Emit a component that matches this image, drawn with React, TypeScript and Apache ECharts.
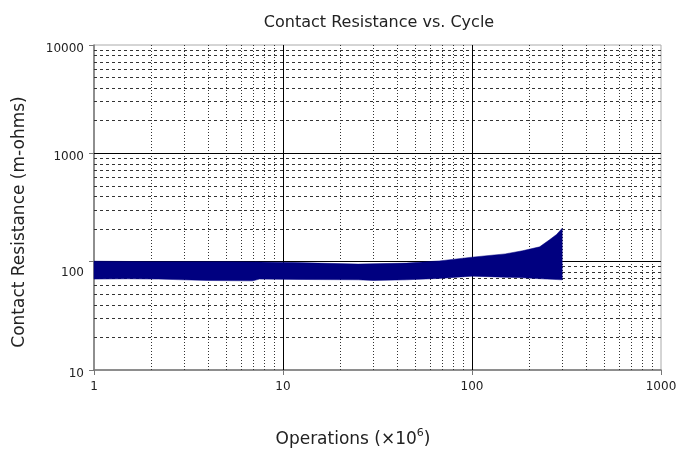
import React, { useEffect, useRef } from "react";
import * as echarts from "echarts";

const xTickValues = [1, 10, 100, 1000];
const yTickValues = [10, 100, 1000, 10000];

const upperX = [1, 2, 5, 7.5, 12, 25, 45, 67, 100, 150, 185, 228, 257, 280, 300];
const upperY = [101, 100, 100, 99.5, 98, 95, 97, 101.5, 110, 118, 126, 137, 159, 178, 203];
const lowerX = [1, 1.5, 2.2, 4, 6.9, 7.5, 12, 25, 30, 45, 67, 100, 185, 250, 300];
const lowerY = [69, 69.5, 69, 67, 66.5, 69, 68.5, 68, 67, 68, 70, 73.5, 71, 69, 68];

const minorX = [2, 3, 4, 5, 6, 7, 8, 9, 20, 30, 40, 50, 60, 70, 80, 90, 200, 300, 400, 500, 600, 700, 800, 900];
const minorY = [20, 30, 40, 50, 60, 70, 80, 90, 200, 300, 400, 500, 600, 700, 800, 900, 2000, 3000, 4000, 5000, 6000, 7000, 8000, 9000];
const majorX = [10, 100];
const majorY = [100, 1000];

const FONT = "DejaVu Sans";

export default function App() {
  const ref = useRef<HTMLDivElement>(null);
  useEffect(() => {
    const chart = echarts.init(ref.current as HTMLDivElement, null, { renderer: "svg" });
    const bandData = upperX.map((x, i) => [x, upperY[i]]);
    const markData: any[] = [
      ...minorX.map((v) => ({ xAxis: v, lineStyle: { type: [1, 2], color: "#333", width: 1 } })),
      ...minorY.map((v) => ({ yAxis: v, lineStyle: { type: [3, 3], color: "#333", width: 1 } })),
      ...majorX.map((v) => ({ xAxis: v, lineStyle: { type: "solid", color: "#000", width: 1 } })),
      ...majorY.map((v) => ({ yAxis: v, lineStyle: { type: "solid", color: "#000", width: 1 } })),
    ];
    chart.setOption({
      animation: false,
      title: {
        text: "Contact Resistance vs. Cycle",
        left: 374,
        top: 8,
        textAlign: "center",
        textStyle: { fontFamily: FONT, fontSize: 16, fontWeight: "normal", color: "#222" },
      },
      grid: {
        left: 94,
        right: 18,
        top: 45,
        bottom: 85,
        outerBoundsMode: "none",
        containLabel: false,
        show: true,
        borderColor: "#aaa",
        borderWidth: 1,
        backgroundColor: "transparent",
      },
      xAxis: {
        type: "log",
        logBase: 10,
        min: xTickValues[0],
        max: xTickValues[xTickValues.length - 1],
        axisLine: { show: true, lineStyle: { color: "#777", width: 1.5 } },
        axisTick: { show: true, length: 5, lineStyle: { color: "#777" } },
        splitLine: { show: false },
        minorTick: { show: false },
        axisLabel: {
          fontFamily: FONT,
          fontSize: 12,
          color: "#222",
          margin: 10,
          formatter: (v: number) => String(Math.round(v)),
        },
      },
      yAxis: {
        type: "log",
        logBase: 10,
        min: yTickValues[0],
        max: yTickValues[yTickValues.length - 1],
        axisLine: { show: true, lineStyle: { color: "#777", width: 1.5 } },
        axisTick: { show: true, length: 5, lineStyle: { color: "#777" } },
        splitLine: { show: false },
        axisLabel: {
          fontFamily: FONT,
          fontSize: 12,
          color: "#222",
          margin: 10,
          formatter: (v: number) => (Math.round(v) === 100 ? "{d|100}" : "{n|" + Math.round(v) + "}"),
          rich: {
            n: { fontFamily: FONT, fontSize: 12, color: "#222", padding: [5, 0, 0, 0] },
            d: { fontFamily: FONT, fontSize: 12, color: "#222", padding: [20, 0, 0, 0] },
          },
        },
      },
      graphic: [
        {
          type: "text",
          x: 18,
          y: 222,
          rotation: Math.PI / 2,
          style: {
            text: "Contact Resistance (m-ohms)",
            fontFamily: FONT,
            fontSize: 17,
            fill: "#222",
            textAlign: "center",
            textVerticalAlign: "middle",
            align: "center",
            verticalAlign: "middle",
          },
        },
        {
          type: "text",
          x: 353,
          y: 438,
          style: {
            text: "{a|Operations }{a|(×10}{s|6}{a|)}",
            fontFamily: FONT,
            fontSize: 17,
            fill: "#222",
            textAlign: "center",
            textVerticalAlign: "middle",
            align: "center",
            verticalAlign: "middle",
            rich: {
              a: { fontFamily: FONT, fontSize: 17, fill: "#222", color: "#222" },
              s: { fontFamily: FONT, fontSize: 11, fill: "#222", color: "#222", padding: [0, 0, 12, 0] },
            },
          },
        },
      ],
      series: [
        {
          type: "line",
          data: [[1, 10]],
          showSymbol: false,
          lineStyle: { opacity: 0 },
          z: 1,
          silent: true,
          markLine: {
            silent: true,
            symbol: ["none", "none"],
            label: { show: false },
            emphasis: { disabled: true },
            animation: false,
            data: markData,
          },
        },
        {
          type: "custom",
          z: 5,
          silent: true,
          data: bandData,
          renderItem: (params: any, api: any) => {
            if (params.dataIndex !== 0) return null;
            const top = upperX.map((x, i) => api.coord([x, upperY[i]]));
            const bottom = lowerX.map((x, i) => api.coord([x, lowerY[i]])).reverse();
            return {
              type: "polygon",
              shape: { points: [...top, ...bottom] },
              style: { fill: "#000080", stroke: "#000080", lineWidth: 0.5 },
            };
          },
        },
      ],
    });
    return () => chart.dispose();
  }, []);
  return (
    <div
      ref={ref}
      style={{ position: "fixed", left: 0, top: 0, width: 679, height: 455 }}
    />
  );
}
